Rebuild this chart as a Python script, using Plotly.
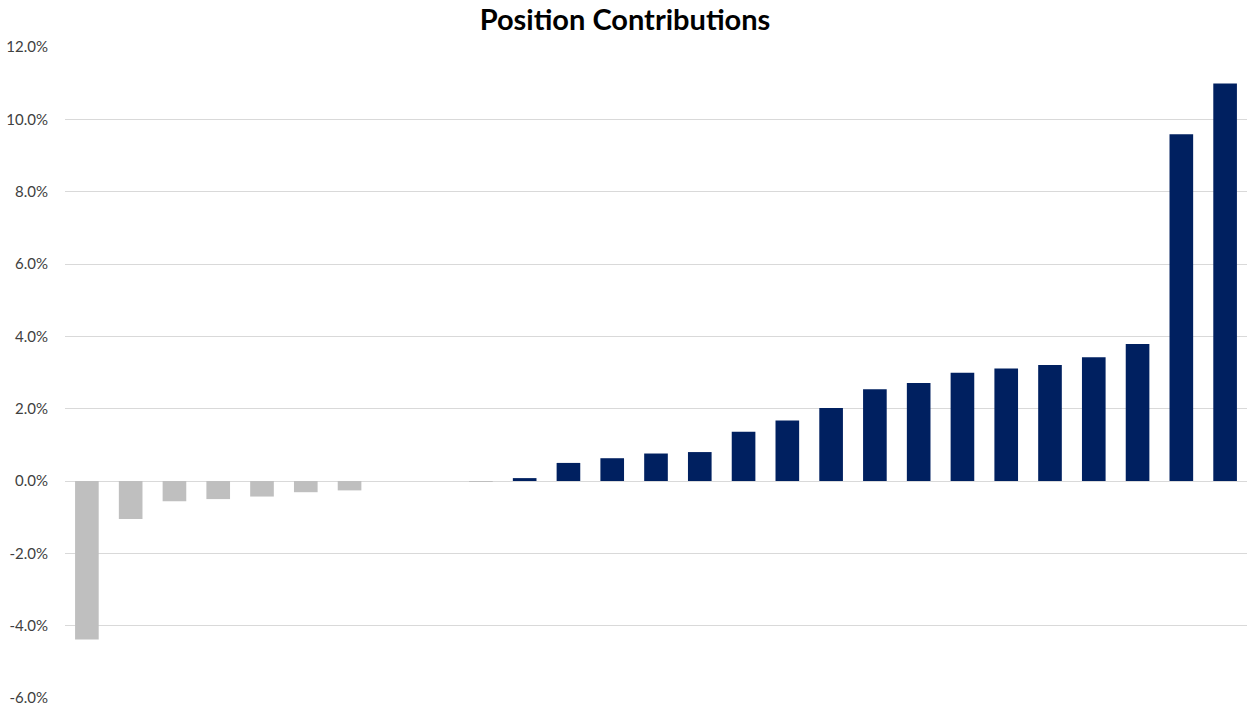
import plotly.graph_objects as go

positions = [f"P{i}" for i in range(1, 28)]
contributions = [-4.38, -1.05, -0.56, -0.50, -0.43, -0.31, -0.26, 0.0, 0.0, -0.01,
                 0.08, 0.50, 0.63, 0.76, 0.80, 1.36, 1.67, 2.02, 2.54, 2.71,
                 2.99, 3.11, 3.21, 3.42, 3.79, 9.59, 10.99]
tick_values = [-6, -4, -2, 0, 2, 4, 6, 8, 10, 12]
tick_labels = ["-6.0%", "-4.0%", "-2.0%", "0.0%", "2.0%", "4.0%", "6.0%", "8.0%", "10.0%", "12.0%"]

NAVY = "#002060"
GRAY = "#BFBFBF"
colors = [NAVY if v > 0 else GRAY for v in contributions]

fig = go.Figure(go.Bar(x=positions, y=contributions, marker_color=colors,
                       marker_line_width=0, width=0.54))

fig.update_layout(
    width=1250, height=709,
    margin=dict(l=65, r=3, t=47, b=9),
    paper_bgcolor="white", plot_bgcolor="white",
    title=dict(text="<b>Position Contributions</b>", x=0.5, xanchor="center",
               y=0.972, yanchor="middle",
               font=dict(family="Lato", size=29, color="black")),
    font=dict(family="Lato", size=15, color="#404040"),
    showlegend=False,
)
fig.update_xaxes(showticklabels=False, showgrid=False, zeroline=False,
                 showline=False, ticks="")
fig.update_yaxes(range=[-6, 12], tickvals=tick_values, ticktext=tick_labels,
                 showgrid=True, gridcolor="#D9D9D9", gridwidth=1,
                 zeroline=True, zerolinecolor="#D9D9D9", zerolinewidth=1,
                 showline=False, ticks="", ticklabelstandoff=16,
                 tickfont=dict(family="Lato", size=15, color="#404040"))

fig.write_html("out.html")
